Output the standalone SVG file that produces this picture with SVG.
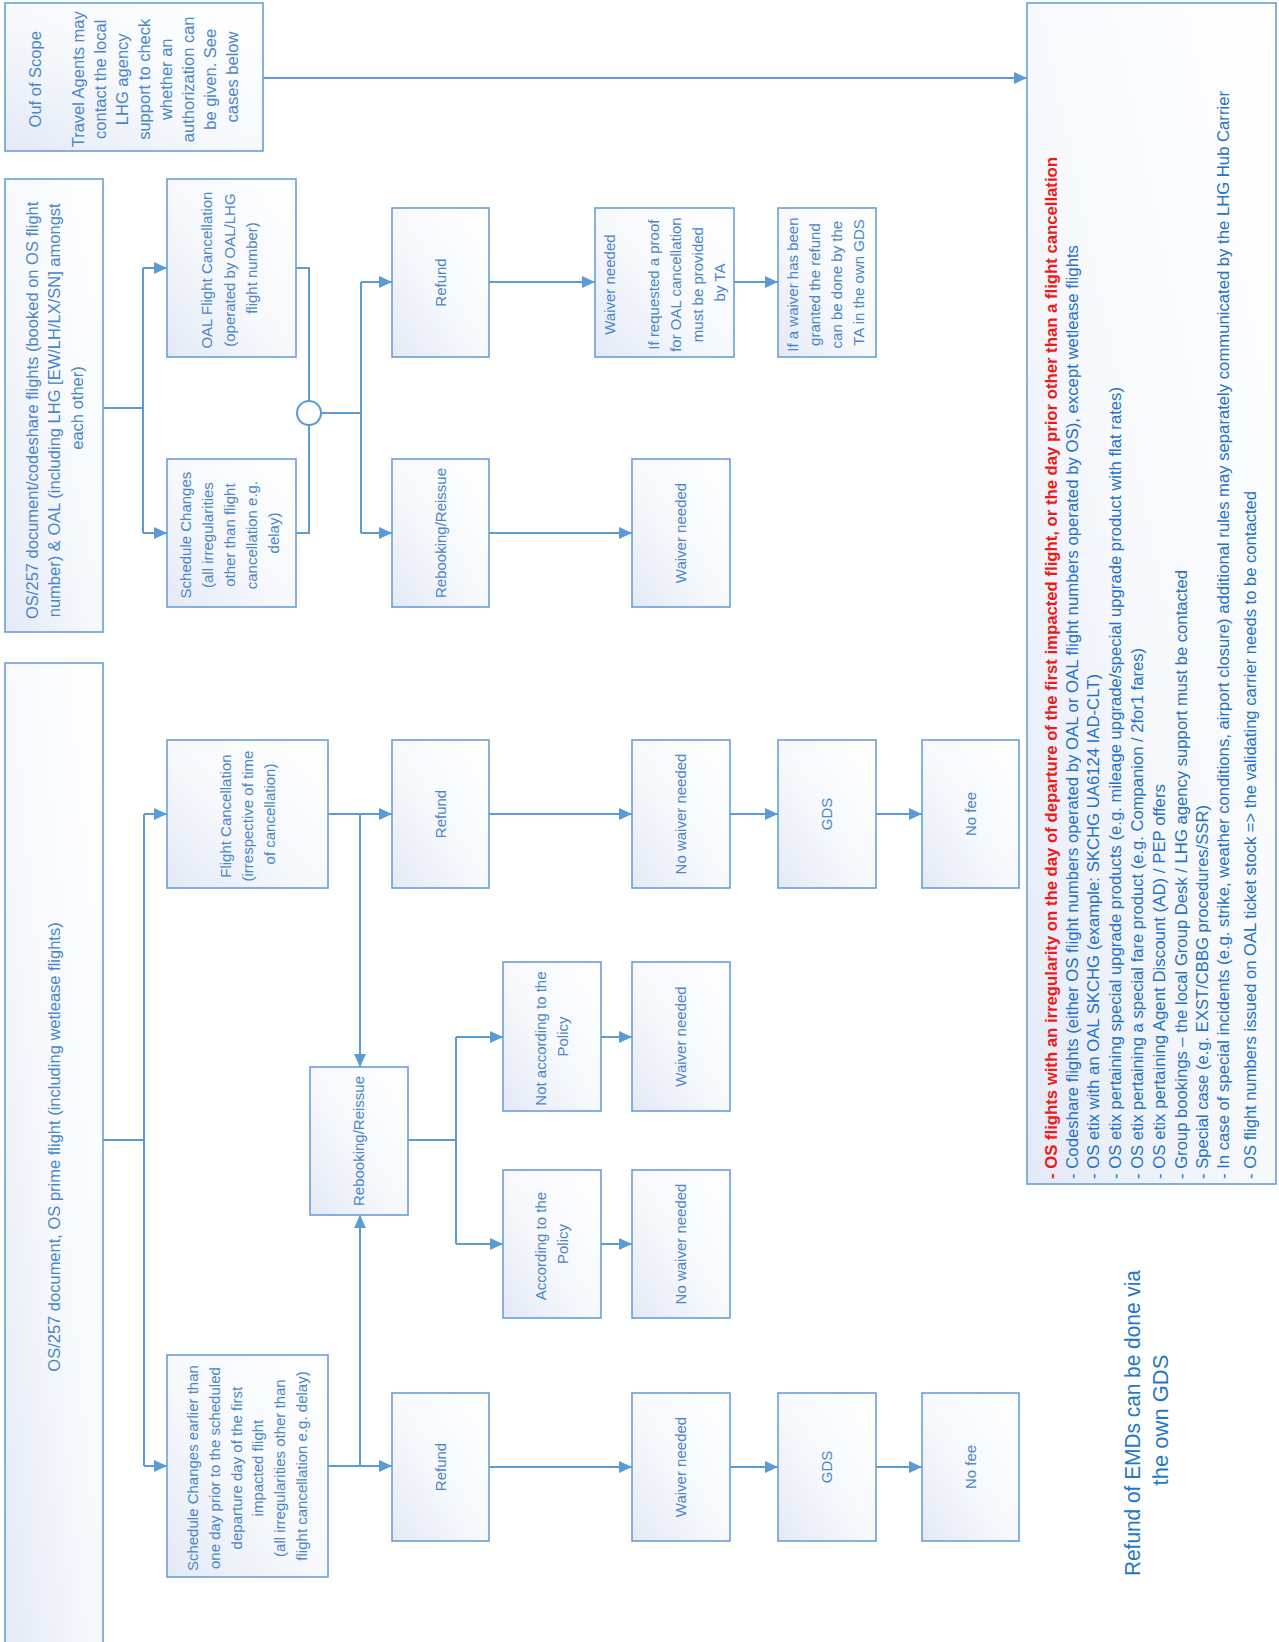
<svg xmlns="http://www.w3.org/2000/svg" width="1279" height="1642" viewBox="0 0 1279 1642">
<defs>
<linearGradient id="g" x1="0" y1="1" x2="1" y2="0">
<stop offset="0" stop-color="#e3e9f6"/>
<stop offset="0.45" stop-color="#f6f8fc"/>
<stop offset="1" stop-color="#ffffff"/>
</linearGradient>
<marker id="ah" markerUnits="userSpaceOnUse" markerWidth="13" markerHeight="12" refX="13" refY="6" orient="auto">
<path d="M0,0 L13,6 L0,12 z" fill="#5b9bd5"/>
</marker>
<style>
.box{fill:url(#g);stroke:#6a9fd8;stroke-width:1.6}
.lbl{font-family:"Liberation Sans",Arial,sans-serif;font-size:15px;fill:#4a86c8;text-anchor:middle}
.big{font-size:16.5px}
.con{fill:none;stroke:#5b9bd5;stroke-width:2}
.arr{marker-end:url(#ah)}
.lst{font-family:"Liberation Sans",Arial,sans-serif;font-size:16.5px;fill:#2472c8}
.red{fill:#f01818;font-weight:bold}
.emd{font-family:"Liberation Sans",Arial,sans-serif;font-size:22px;fill:#1f78c8;text-anchor:middle}
</style>
</defs>

<g id="connectors">
<path class="con arr" d="M263,78 H1027"/>
<path class="con" d="M103,408 H143 M143,268 V533"/>
<path class="con arr" d="M143,268 H167"/>
<path class="con arr" d="M143,533 H167"/>
<path class="con" d="M296,268 H309 V401 M296,533 H309 V425 M321,413 H361 M361,282 V533"/>
<path class="con arr" d="M361,282 H392"/>
<path class="con arr" d="M361,533 H392"/>
<path class="con arr" d="M489,282 H595"/>
<path class="con arr" d="M734,282 H778"/>
<path class="con arr" d="M489,533 H632"/>
<path class="con" d="M103,1140 H144 M144,814 V1466"/>
<path class="con arr" d="M144,814 H167"/>
<path class="con arr" d="M144,1466 H167"/>
<path class="con arr" d="M328,814 H392"/>
<path class="con arr" d="M360,814 V1067"/>
<path class="con arr" d="M328,1466 H392"/>
<path class="con arr" d="M360,1466 V1215"/>
<path class="con arr" d="M489,814 H632"/>
<path class="con arr" d="M730,814 H778"/>
<path class="con arr" d="M876,814 H922"/>
<path class="con" d="M408,1140 H456 M456,1037 V1244"/>
<path class="con arr" d="M456,1037 H503"/>
<path class="con arr" d="M456,1244 H503"/>
<path class="con arr" d="M601,1037 H632"/>
<path class="con arr" d="M601,1244 H632"/>
<path class="con arr" d="M489,1467 H632"/>
<path class="con arr" d="M730,1467 H778"/>
<path class="con arr" d="M876,1467 H922"/>
</g>

<g id="junction"><circle cx="309" cy="413" r="12" fill="#ffffff" stroke="#5b9bd5" stroke-width="2"/></g>

<g id="out-of-scope">
<rect class="box" x="5" y="3" width="258" height="148"/>
<text class="lbl big" transform="translate(134,77) rotate(-90)">
<tspan x="0" y="-93.5">Ouf of Scope</tspan>
<tspan x="0" y="-50.5">Travel Agents may</tspan>
<tspan x="0" y="-28.5">contact the local</tspan>
<tspan x="0" y="-6.5">LHG agency</tspan>
<tspan x="0" y="15.5">support to check</tspan>
<tspan x="0" y="37.5">whether an</tspan>
<tspan x="0" y="59.5">authorization can</tspan>
<tspan x="0" y="81.5">be given. See</tspan>
<tspan x="0" y="103.5">cases below</tspan>
</text>
</g>

<g id="codeshare">
<rect class="box" x="5" y="179" width="98" height="453"/>
<text class="lbl big" transform="translate(54,408) rotate(-90)">
<tspan x="0" y="-16.5">OS/257 document/codeshare flights (booked on OS flight</tspan>
<tspan x="0" y="6">number) &amp; OAL (including LHG [EW/LH/LX/SN] amongst</tspan>
<tspan x="0" y="28.5">each other)</tspan>
</text>
</g>

<g id="oal-cancel">
<rect class="box" x="167" y="179" width="129" height="178"/>
<text class="lbl" transform="translate(231.5,268) rotate(-90)">
<tspan x="0" y="-19.5">OAL Flight Cancellation</tspan>
<tspan x="0" y="3">(operated by OAL/LHG</tspan>
<tspan x="0" y="25.5">flight number)</tspan>
</text>
</g>

<g id="cs-schedule">
<rect class="box" x="167" y="459" width="129" height="148"/>
<text class="lbl" transform="translate(231.5,533) rotate(-90)">
<tspan x="0" y="-40.5">Schedule Changes</tspan>
<tspan x="0" y="-18.5">(all irregularities</tspan>
<tspan x="0" y="3.5">other than flight</tspan>
<tspan x="0" y="25.5">cancellation e.g.</tspan>
<tspan x="0" y="47.5">delay)</tspan>
</text>
</g>

<g id="cs-refund">
<rect class="box" x="392" y="208" width="97" height="149"/>
<text class="lbl" transform="translate(440.5,282.5) rotate(-90)"><tspan x="0" y="5">Refund</tspan></text>
</g>

<g id="cs-waiver-proof">
<rect class="box" x="595" y="208" width="139" height="149"/>
<text class="lbl" transform="translate(664.5,282.5) rotate(-90)">
<tspan x="0" y="-49.5">Waiver needed</tspan>
<tspan x="0" y="-5.5">If requested a proof</tspan>
<tspan x="0" y="16.5">for OAL cancellation</tspan>
<tspan x="0" y="38.5">must be provided</tspan>
<tspan x="0" y="60.5">by TA</tspan>
</text>
</g>

<g id="cs-granted">
<rect class="box" x="778" y="208" width="98" height="149"/>
<text class="lbl" transform="translate(827,282.5) rotate(-90)">
<tspan x="0" y="-29">If a waiver has been</tspan>
<tspan x="0" y="-7">granted the refund</tspan>
<tspan x="0" y="15">can be done by the</tspan>
<tspan x="0" y="37">TA in the own GDS</tspan>
</text>
</g>

<g id="cs-rebooking">
<rect class="box" x="392" y="459" width="97" height="148"/>
<text class="lbl" transform="translate(440.5,533) rotate(-90)"><tspan x="0" y="5">Rebooking/Reissue</tspan></text>
</g>

<g id="cs-waiver">
<rect class="box" x="632" y="459" width="98" height="148"/>
<text class="lbl" transform="translate(681,533) rotate(-90)"><tspan x="0" y="5">Waiver needed</tspan></text>
</g>

<g id="main">
<rect class="box" x="5" y="663" width="98" height="990"/>
<text class="lbl big" transform="translate(54,1147) rotate(-90)"><tspan x="0" y="5.5">OS/257 document, OS prime flight (including wetlease flights)</tspan></text>
</g>

<g id="flight-cancel">
<rect class="box" x="167" y="740" width="161" height="148"/>
<text class="lbl" transform="translate(247.5,814) rotate(-90)">
<tspan x="0" y="-17">Flight Cancellation</tspan>
<tspan x="0" y="5">(irrespective of time</tspan>
<tspan x="0" y="27">of cancellation)</tspan>
</text>
</g>

<g id="fc-refund">
<rect class="box" x="392" y="740" width="97" height="148"/>
<text class="lbl" transform="translate(440.5,814) rotate(-90)"><tspan x="0" y="5">Refund</tspan></text>
</g>
<g id="fc-nowaiver">
<rect class="box" x="632" y="740" width="98" height="148"/>
<text class="lbl" transform="translate(681,814) rotate(-90)"><tspan x="0" y="5">No waiver needed</tspan></text>
</g>
<g id="fc-gds">
<rect class="box" x="778" y="740" width="98" height="148"/>
<text class="lbl" transform="translate(827,814) rotate(-90)"><tspan x="0" y="5">GDS</tspan></text>
</g>
<g id="fc-nofee">
<rect class="box" x="922" y="740" width="97" height="148"/>
<text class="lbl" transform="translate(970.5,814) rotate(-90)"><tspan x="0" y="5">No fee</tspan></text>
</g>

<g id="rebooking">
<rect class="box" x="310" y="1067" width="98" height="148"/>
<text class="lbl" transform="translate(359,1141) rotate(-90)"><tspan x="0" y="5">Rebooking/Reissue</tspan></text>
</g>

<g id="not-policy">
<rect class="box" x="503" y="962" width="98" height="149"/>
<text class="lbl" transform="translate(552,1036.5) rotate(-90)">
<tspan x="0" y="-6">Not according to the</tspan>
<tspan x="0" y="16">Policy</tspan>
</text>
</g>
<g id="np-waiver">
<rect class="box" x="632" y="962" width="98" height="149"/>
<text class="lbl" transform="translate(681,1036.5) rotate(-90)"><tspan x="0" y="5">Waiver needed</tspan></text>
</g>

<g id="acc-policy">
<rect class="box" x="503" y="1170" width="98" height="148"/>
<text class="lbl" transform="translate(552,1244) rotate(-90)">
<tspan x="0" y="-6">According to the</tspan>
<tspan x="0" y="16">Policy</tspan>
</text>
</g>
<g id="ap-nowaiver">
<rect class="box" x="632" y="1170" width="98" height="148"/>
<text class="lbl" transform="translate(681,1244) rotate(-90)"><tspan x="0" y="5">No waiver needed</tspan></text>
</g>

<g id="schedule-earlier">
<rect class="box" x="167" y="1355" width="161" height="222"/>
<text class="lbl" transform="translate(247.5,1466) rotate(-90)">
<tspan x="0" y="-49.5">Schedule Changes earlier than</tspan>
<tspan x="0" y="-27.5">one day prior to the scheduled</tspan>
<tspan x="0" y="-5.5">departure day of the first</tspan>
<tspan x="0" y="15.5">impacted flight</tspan>
<tspan x="0" y="37.5">(all irregularities other than</tspan>
<tspan x="0" y="59.5">flight cancellation e.g. delay)</tspan>
</text>
</g>

<g id="sc-refund">
<rect class="box" x="392" y="1393" width="97" height="148"/>
<text class="lbl" transform="translate(440.5,1467) rotate(-90)"><tspan x="0" y="5">Refund</tspan></text>
</g>
<g id="sc-waiver">
<rect class="box" x="632" y="1393" width="98" height="148"/>
<text class="lbl" transform="translate(681,1467) rotate(-90)"><tspan x="0" y="5">Waiver needed</tspan></text>
</g>
<g id="sc-gds">
<rect class="box" x="778" y="1393" width="98" height="148"/>
<text class="lbl" transform="translate(827,1467) rotate(-90)"><tspan x="0" y="5">GDS</tspan></text>
</g>
<g id="sc-nofee">
<rect class="box" x="922" y="1393" width="97" height="148"/>
<text class="lbl" transform="translate(970.5,1467) rotate(-90)"><tspan x="0" y="5">No fee</tspan></text>
</g>

<g id="cases">
<rect class="box" x="1027" y="3" width="249" height="1181"/>
<g transform="translate(0,1179) rotate(-90)">
<text class="lst red" x="0" y="1056.5" textLength="1022" lengthAdjust="spacingAndGlyphs">- OS flights with an irregularity on the day of departure of the first impacted flight, or the day prior other than a flight cancellation</text>
<text class="lst" x="0" y="1077.5" textLength="934" lengthAdjust="spacingAndGlyphs">- Codeshare flights (either OS flight numbers operated by OAL or OAL flight numbers operated by OS), except  wetlease flights</text>
<text class="lst" x="0" y="1098.5" textLength="505" lengthAdjust="spacingAndGlyphs">- OS etix with an OAL SKCHG (example: SKCHG UA6124 IAD-CLT)</text>
<text class="lst" x="0" y="1120.5" textLength="792" lengthAdjust="spacingAndGlyphs">- OS etix pertaining special upgrade products (e.g. mileage upgrade/special upgrade product with flat rates)</text>
<text class="lst" x="0" y="1142.5" textLength="531" lengthAdjust="spacingAndGlyphs">- OS etix pertaining a special fare product (e.g. Companion / 2for1 fares)</text>
<text class="lst" x="0" y="1164.5" textLength="395" lengthAdjust="spacingAndGlyphs">- OS etix  pertaining Agent Discount (AD) / PEP offers</text>
<text class="lst" x="0" y="1186.5" textLength="609" lengthAdjust="spacingAndGlyphs">- Group bookings – the local Group Desk / LHG agency support must be contacted</text>
<text class="lst" x="0" y="1207.5" textLength="374" lengthAdjust="spacingAndGlyphs">- Special case (e.g. EXST/CBBG procedures/SSR)</text>
<text class="lst" x="0" y="1228.5" textLength="1088" lengthAdjust="spacingAndGlyphs">- In case of special incidents (e.g. strike, weather conditions, airport closure) additional rules may separately communicated by the LHG Hub Carrier</text>
<text class="lst" x="0" y="1255.5" textLength="688" lengthAdjust="spacingAndGlyphs">- OS flight numbers issued on OAL ticket stock =&gt; the validating carrier needs to be contacted</text>
</g>
</g>

<g id="emd-note">
<text class="emd" transform="translate(1146,1420) rotate(-90)">
<tspan x="0" y="-6" textLength="306" lengthAdjust="spacingAndGlyphs">Refund of EMDs can be done via</tspan>
<tspan x="0" y="22">the own GDS</tspan>
</text>
</g>
</svg>
